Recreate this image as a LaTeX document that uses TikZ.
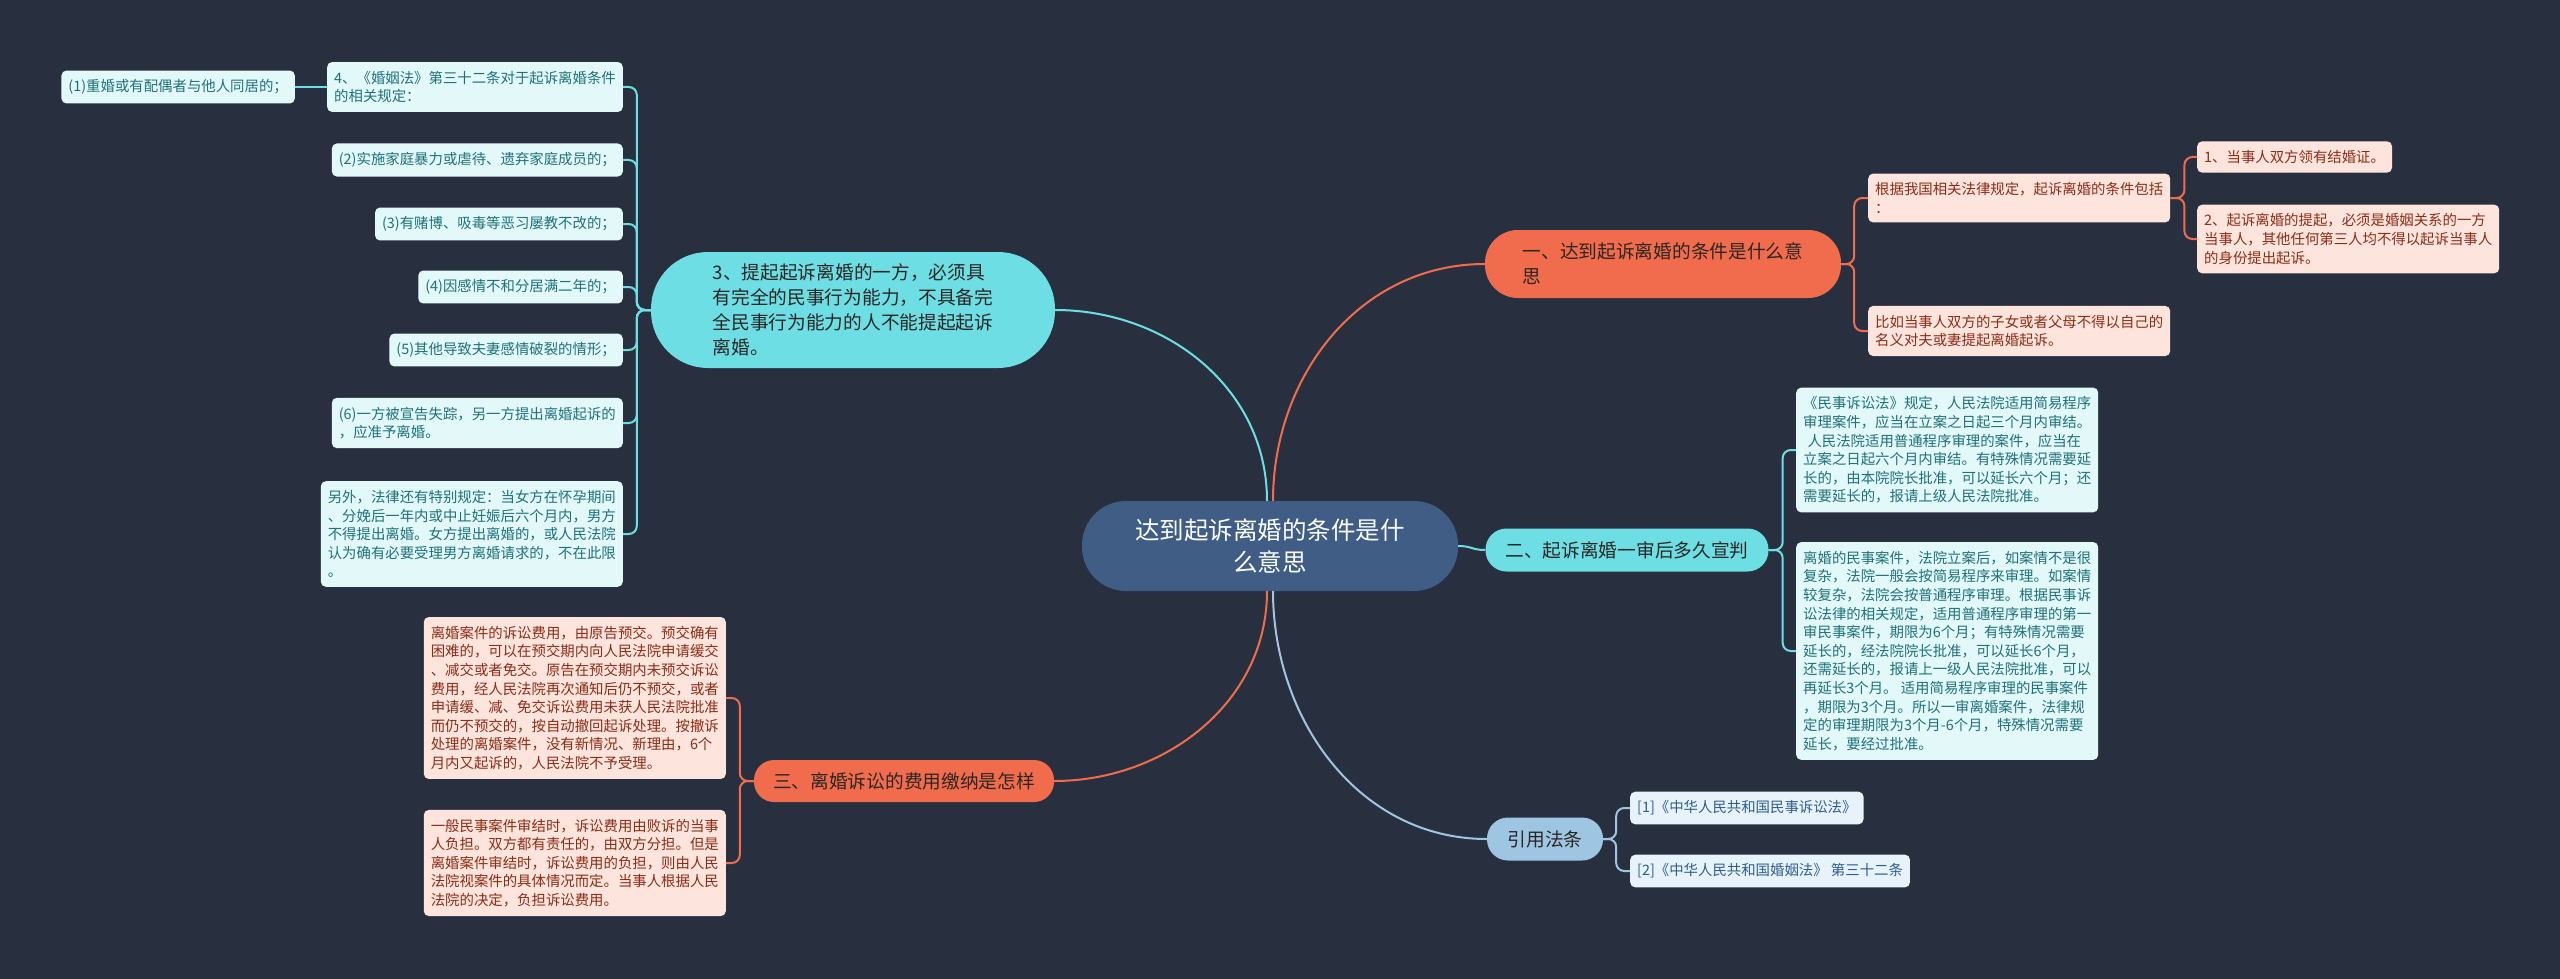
\documentclass[tikz,border=0pt]{standalone}
\usepackage{fontspec}
\setmainfont{Noto Sans CJK SC}

\definecolor{bgdark}{HTML}{28303F}
\definecolor{rootblue}{HTML}{3F5D85}
\definecolor{coral}{HTML}{F06C4D}
\definecolor{aqua}{HTML}{6DDFE4}
\definecolor{sky}{HTML}{9EC6E3}
\definecolor{aquapale}{HTML}{E2F8F9}
\definecolor{aquaink}{HTML}{1F7179}
\definecolor{coralpale}{HTML}{FDE4DC}
\definecolor{coralink}{HTML}{8A2D17}
\definecolor{skypale}{HTML}{E8F2FA}
\definecolor{skyink}{HTML}{2D5F8C}
\definecolor{topicink}{HTML}{2B2624}

\begin{document}
\begin{tikzpicture}[
    x=1pt, y=-1pt,
    rootnode/.style={fill=rootblue, text=white, align=center, inner sep=0pt, font=\fontsize{24.5}{32}\selectfont},
    topic/.style={fill=#1, text=topicink, align=left, inner sep=0pt, font=\fontsize{18.7}{25}\selectfont},
    leaf/.style={rounded corners=5pt, align=left, inner xsep=7pt, inner ysep=9pt, font=\fontsize{14.4}{18.6}\selectfont},
    aqualeaf/.style={leaf, fill=aquapale, text=aquaink},
    coralleaf/.style={leaf, fill=coralpale, text=coralink},
    skyleaf/.style={leaf, fill=skypale, text=skyink},
    link/.style={line width=2pt, rounded corners=8pt}
]

% -------------------------
% Canvas
% -------------------------
\fill[bgdark] (0, 0) rectangle (2560, 979);

% -------------------------
% Root and Main Topics
% -------------------------
\node[rootnode, minimum width=376pt, minimum height=90pt, rounded corners=44pt] (Root) at (1270, 546) {达到起诉离婚的条件是什\\么意思};
\node[topic=coral, minimum width=356pt, minimum height=68pt, rounded corners=33pt] (One) at (1663, 264) {一、达到起诉离婚的条件是什么意\\思};
\node[topic=aqua, minimum width=283pt, minimum height=43pt, rounded corners=21pt] (Two) at (1627, 550) {二、起诉离婚一审后多久宣判};
\node[topic=coral, minimum width=300pt, minimum height=42pt, rounded corners=20pt] (Three) at (904, 781) {三、离婚诉讼的费用缴纳是怎样};
\node[topic=sky, minimum width=116pt, minimum height=43pt, rounded corners=21pt] (Cite) at (1545, 839) {引用法条};
\node[topic=aqua, minimum width=404pt, minimum height=116pt, rounded corners=57pt] (Ability) at (853, 310) {3、提起起诉离婚的一方，必须具\\有完全的民事行为能力，不具备完\\全民事行为能力的人不能提起起诉\\离婚。};

% -------------------------
% Left Column (Marriage Law Art. 32)
% -------------------------
\node[aqualeaf, anchor=east] (Art0) at (623, 87) {4、《婚姻法》第三十二条对于起诉离婚条件\\的相关规定：};
\node[aqualeaf, anchor=east] (Art1) at (295, 87) {(1)重婚或有配偶者与他人同居的；};
\node[aqualeaf, anchor=east] (Art2) at (623, 160) {(2)实施家庭暴力或虐待、遗弃家庭成员的；};
\node[aqualeaf, anchor=east] (Art3) at (623, 224) {(3)有赌博、吸毒等恶习屡教不改的；};
\node[aqualeaf, anchor=east] (Art4) at (623, 287) {(4)因感情不和分居满二年的；};
\node[aqualeaf, anchor=east] (Art5) at (623, 350) {(5)其他导致夫妻感情破裂的情形；};
\node[aqualeaf, anchor=east] (Art6) at (623, 423) {(6)一方被宣告失踪，另一方提出离婚起诉的\\，应准予离婚。};
\node[aqualeaf, anchor=east] (ArtNote) at (623, 534) {另外，法律还有特别规定：当女方在怀孕期间\\、分娩后一年内或中止妊娠后六个月内，男方\\不得提出离婚。女方提出离婚的，或人民法院\\认为确有必要受理男方离婚请求的，不在此限\\。};

% -------------------------
% Conditions (Top Right)
% -------------------------
\node[coralleaf, anchor=west] (CondIntro) at (1868, 198) {根据我国相关法律规定，起诉离婚的条件包括\\：};
\node[coralleaf, anchor=west] (CondNote) at (1868, 331) {比如当事人双方的子女或者父母不得以自己的\\名义对夫或妻提起离婚起诉。};
\node[coralleaf, anchor=west] (Cond1) at (2197, 157) {1、当事人双方领有结婚证。};
\node[coralleaf, anchor=west] (Cond2) at (2197, 239) {2、起诉离婚的提起，必须是婚姻关系的一方\\当事人，其他任何第三人均不得以起诉当事人\\的身份提出起诉。};

% -------------------------
% Ruling Period (Middle Right)
% -------------------------
\node[aqualeaf, anchor=west] (Ruling1) at (1796, 450) {《民事诉讼法》规定，人民法院适用简易程序\\审理案件，应当在立案之日起三个月内审结。\\\hspace{0.3em}人民法院适用普通程序审理的案件，应当在\\立案之日起六个月内审结。有特殊情况需要延\\长的，由本院院长批准，可以延长六个月；还\\需要延长的，报请上级人民法院批准。};
\node[aqualeaf, anchor=west] (Ruling2) at (1796, 651) {离婚的民事案件，法院立案后，如案情不是很\\复杂，法院一般会按简易程序来审理。如案情\\较复杂，法院会按普通程序审理。根据民事诉\\讼法律的相关规定，适用普通程序审理的第一\\审民事案件，期限为6个月；有特殊情况需要\\延长的，经法院院长批准，可以延长6个月，\\还需延长的，报请上一级人民法院批准，可以\\再延长3个月。 适用简易程序审理的民事案件\\，期限为3个月。所以一审离婚案件，法律规\\定的审理期限为3个月-6个月，特殊情况需要\\延长，要经过批准。};

% -------------------------
% Fees (Bottom Left)
% -------------------------
\node[coralleaf, anchor=east] (Fee1) at (726, 698) {离婚案件的诉讼费用，由原告预交。预交确有\\困难的，可以在预交期内向人民法院申请缓交\\、减交或者免交。原告在预交期内未预交诉讼\\费用，经人民法院再次通知后仍不预交，或者\\申请缓、减、免交诉讼费用未获人民法院批准\\而仍不预交的，按自动撤回起诉处理。按撤诉\\处理的离婚案件，没有新情况、新理由，6个\\月内又起诉的，人民法院不予受理。};
\node[coralleaf, anchor=east] (Fee2) at (726, 863) {一般民事案件审结时，诉讼费用由败诉的当事\\人负担。双方都有责任的，由双方分担。但是\\离婚案件审结时，诉讼费用的负担，则由人民\\法院视案件的具体情况而定。当事人根据人民\\法院的决定，负担诉讼费用。};

% -------------------------
% Cited Laws (Bottom Right)
% -------------------------
\node[skyleaf, anchor=west] (Law1) at (1630, 808) {[1]《中华人民共和国民事诉讼法》};
\node[skyleaf, anchor=west] (Law2) at (1630, 871) {[2]《中华人民共和国婚姻法》 第三十二条};

% -------------------------
% Root Links
% -------------------------
\draw[aqua, line width=2pt] ([xshift=-3pt]Root.north) .. controls +(0,-112) and +(112,0) .. (Ability.east);
\draw[coral, line width=2pt] ([xshift=3pt]Root.north) .. controls +(0,-125) and +(-125,0) .. (One.west);
\draw[aqua, line width=2pt] (Root.east) .. controls +(14,0) and +(-14,0) .. (Two.west);
\draw[coral, line width=2pt] ([xshift=-3pt]Root.south) .. controls +(0,111) and +(111,0) .. (Three.east);
\draw[sky, line width=2pt] ([xshift=3pt]Root.south) .. controls +(0,128) and +(-128,0) .. (Cite.west);

% -------------------------
% Branch Links
% -------------------------

% Ability Links
\draw[link, aqua] (Ability.west) -- ++(-14,0) |- (Art0.east);
\draw[link, aqua] (Ability.west) -- ++(-14,0) |- (Art2.east);
\draw[link, aqua] (Ability.west) -- ++(-14,0) |- (Art3.east);
\draw[link, aqua] (Ability.west) -- ++(-14,0) |- (Art4.east);
\draw[link, aqua] (Ability.west) -- ++(-14,0) |- (Art5.east);
\draw[link, aqua] (Ability.west) -- ++(-14,0) |- (Art6.east);
\draw[link, aqua] (Ability.west) -- ++(-14,0) |- (ArtNote.east);
\draw[link, aqua] (Art0.west) -- (Art1.east);

% Condition Links
\draw[link, coral] (One.east) -- ++(13,0) |- (CondIntro.west);
\draw[link, coral] (One.east) -- ++(13,0) |- (CondNote.west);
\draw[link, coral] (CondIntro.east) -- ++(14,0) |- (Cond1.west);
\draw[link, coral] (CondIntro.east) -- ++(14,0) |- (Cond2.west);

% Ruling Links
\draw[link, aqua] (Two.east) -- ++(14,0) |- (Ruling1.west);
\draw[link, aqua] (Two.east) -- ++(14,0) |- (Ruling2.west);

% Fee Links
\draw[link, coral] (Three.west) -- ++(-14,0) |- (Fee1.east);
\draw[link, coral] (Three.west) -- ++(-14,0) |- (Fee2.east);

% Law Links
\draw[link, sky] (Cite.east) -- ++(13,0) |- (Law1.west);
\draw[link, sky] (Cite.east) -- ++(13,0) |- (Law2.west);

\end{tikzpicture}
\end{document}
